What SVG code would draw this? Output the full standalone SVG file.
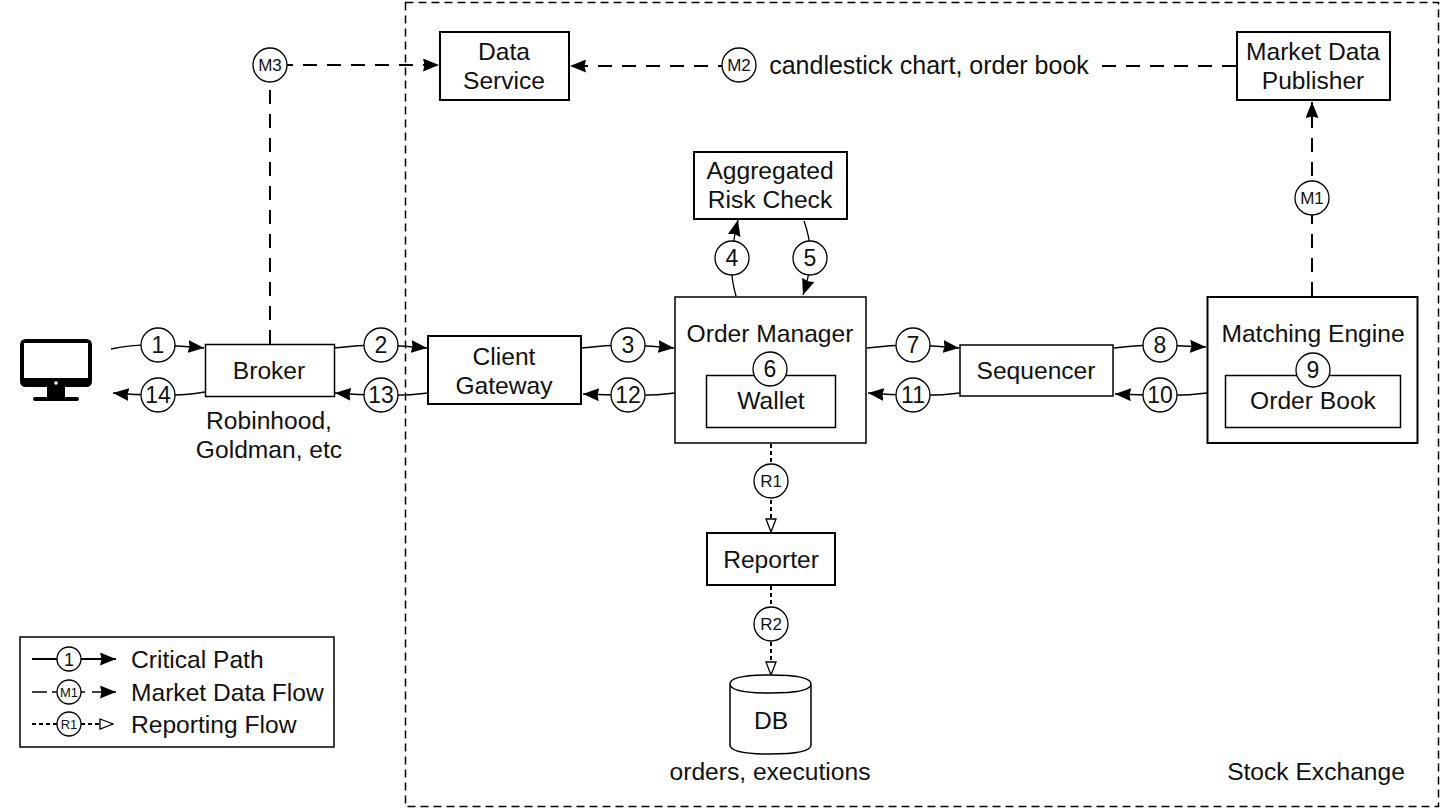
<svg xmlns="http://www.w3.org/2000/svg" width="1440" height="808" viewBox="0 0 1440 808">
<style>
text{font-family:"Liberation Sans",Arial,sans-serif;font-size:24.600px;fill:#111;text-anchor:middle}
.box{fill:#fff;stroke:#000;stroke-width:2}
.c{fill:#fff;stroke:#000;stroke-width:1.300}
.n{font-size:23px}
.m{font-size:17px}
.s{fill:none;stroke:#000;stroke-width:1.300}
.d{fill:none;stroke:#000;stroke-width:2;stroke-dasharray:14 10}
.r{fill:none;stroke:#000;stroke-width:2;stroke-dasharray:4 3}
.h{fill:#000;stroke:none}
.o{fill:#fff;stroke:#000;stroke-width:1.300}
</style>
<defs>
<marker id="a" viewBox="0 0 16 13" refX="16" refY="6.500" markerWidth="16" markerHeight="13" markerUnits="userSpaceOnUse" orient="auto"><path d="M0 0L16 6.500L0 13L1.500 6.500Z" class="h"/></marker>
<marker id="w" viewBox="0 0 15 12" refX="14" refY="6" markerWidth="15" markerHeight="12" markerUnits="userSpaceOnUse" orient="auto"><path d="M1 1L14 6L1 11Z" class="o"/></marker>
</defs>
<rect id="stock-exchange" x="405.500" y="2.500" width="1033" height="804" fill="none" stroke="#000" stroke-width="1.500" stroke-dasharray="8 5"/>
<g id="connectors">
<path class="s" d="M111 349Q135 344 158 345Q182 346 204 348" marker-end="url(#a)"/>
<path class="s" d="M205 392Q180 396 158 395Q135 395 113 393" marker-end="url(#a)"/>
<path class="s" d="M334 348Q358 345 381 345Q405 346 427 348" marker-end="url(#a)"/>
<path class="s" d="M428 393Q405 396 381 395Q358 395 335 393" marker-end="url(#a)"/>
<path class="s" d="M582 348Q605 345 628 345Q652 346 674 348" marker-end="url(#a)"/>
<path class="s" d="M675 393Q652 396 628 395Q605 395 583 394" marker-end="url(#a)"/>
<path class="s" d="M867 348Q890 345 913 345Q937 346 959 348" marker-end="url(#a)"/>
<path class="s" d="M960 393Q937 396 913 395Q890 395 868 393" marker-end="url(#a)"/>
<path class="s" d="M1114 348Q1138 345 1160 345Q1184 346 1206 347" marker-end="url(#a)"/>
<path class="s" d="M1207 393Q1184 396 1160 395Q1138 395 1115 394" marker-end="url(#a)"/>
<path class="s" d="M736 296Q730 275 732 258Q733 240 738 220" marker-end="url(#a)"/>
<path class="s" d="M804 221Q811 240 810 258Q810 275 803 295" marker-end="url(#a)"/>
<path class="d" d="M270 344V65H439" marker-end="url(#a)"/>
<path class="d" d="M1236 66H570" marker-end="url(#a)"/>
<path class="d" d="M1312 296V102" marker-end="url(#a)"/>
<path class="r" d="M771 444V532" marker-end="url(#w)"/>
<path class="r" d="M771 586V675" marker-end="url(#w)"/>
</g>
<g id="client"><path d="M26 339H86Q92 339 92 345V381Q92 387 86 387H26Q20 387 20 381V345Q20 339 26 339ZM24 343V378H88V343Z" fill-rule="evenodd" fill="#000"/><circle cx="56" cy="383" r="1.800" fill="#fff"/><rect x="47" y="387" width="18" height="10" fill="#000"/><rect x="33" y="397" width="46" height="4" rx="2" fill="#000"/></g>
<g id="broker"><rect class="box" x="205.500" y="344.500" width="129" height="52" style="stroke-width:1.500"/><text x="269" y="379">Broker</text><text x="269" y="429">Robinhood,</text><text x="269" y="458">Goldman, etc</text></g>
<g id="client-gateway"><rect class="box" x="428" y="336" width="153" height="68"/><text x="504" y="365">Client</text><text x="504" y="394">Gateway</text></g>
<g id="order-manager"><rect class="box" x="675" y="297" width="191" height="146" style="stroke-width:1.500"/><text x="770" y="342">Order Manager</text><rect class="box" x="706.500" y="375.500" width="129" height="52" style="stroke-width:1.500"/><text x="771" y="409">Wallet</text></g>
<g id="sequencer"><rect class="box" x="960" y="345" width="153" height="51" style="stroke-width:1.500"/><text x="1036" y="379">Sequencer</text></g>
<g id="matching-engine"><rect class="box" x="1207.500" y="297" width="210" height="146"/><text x="1313" y="342">Matching Engine</text><rect class="box" x="1225.500" y="375.500" width="175" height="52" style="stroke-width:1.500"/><text x="1313" y="409">Order Book</text></g>
<g id="aggregated-risk-check"><rect class="box" x="694" y="152" width="153" height="67"/><text x="770" y="179">Aggregated</text><text x="770" y="208">Risk Check</text></g>
<g id="data-service"><rect class="box" x="440" y="32" width="129" height="68"/><text x="504" y="60">Data</text><text x="504" y="89">Service</text></g>
<g id="market-data-publisher"><rect class="box" x="1237" y="32" width="153" height="68"/><text x="1313" y="60">Market Data</text><text x="1313" y="89">Publisher</text></g>
<g id="reporter"><rect class="box" x="707" y="533" width="128" height="52"/><text x="771" y="568">Reporter</text></g>
<g id="db"><path d="M730 684V745Q730 754 770 754Q811 754 811 745V684Q811 675 770 675Q730 675 730 684Q730 693 770 693Q811 693 811 684" fill="#fff" stroke="#000" stroke-width="1.500"/><text x="771" y="729">DB</text><text x="770" y="780">orders, executions</text></g>
<g id="labels"><rect x="750" y="50" width="350" height="30" fill="#fff"/><text x="929" y="74" style="font-size:25px">candlestick chart, order book</text><text x="1316" y="780">Stock Exchange</text></g>
<g id="badges">
<g><circle class="c" cx="158" cy="345" r="17"/><text class="n" x="158" y="353">1</text></g>
<g><circle class="c" cx="158" cy="395" r="17"/><text class="n" x="158" y="403">14</text></g>
<g><circle class="c" cx="381" cy="345" r="17"/><text class="n" x="381" y="353">2</text></g>
<g><circle class="c" cx="381" cy="395" r="17"/><text class="n" x="381" y="403">13</text></g>
<g><circle class="c" cx="628" cy="345" r="17"/><text class="n" x="628" y="353">3</text></g>
<g><circle class="c" cx="628" cy="395" r="17"/><text class="n" x="628" y="403">12</text></g>
<g><circle class="c" cx="732" cy="258" r="17"/><text class="n" x="732" y="266">4</text></g>
<g><circle class="c" cx="810" cy="258" r="17"/><text class="n" x="810" y="266">5</text></g>
<g><circle class="c" cx="770" cy="369" r="17"/><text class="n" x="770" y="377">6</text></g>
<g><circle class="c" cx="913" cy="345" r="17"/><text class="n" x="913" y="353">7</text></g>
<g><circle class="c" cx="913" cy="395" r="17"/><text class="n" x="913" y="403">11</text></g>
<g><circle class="c" cx="1160" cy="345" r="17"/><text class="n" x="1160" y="353">8</text></g>
<g><circle class="c" cx="1160" cy="395" r="17"/><text class="n" x="1160" y="403">10</text></g>
<g><circle class="c" cx="1313" cy="370" r="17"/><text class="n" x="1313" y="378">9</text></g>
<g><circle class="c" cx="270" cy="65" r="17"/><text class="m" x="270" y="71">M3</text></g>
<g><circle class="c" cx="739" cy="65" r="17"/><text class="m" x="739" y="71">M2</text></g>
<g><circle class="c" cx="1312" cy="198" r="17"/><text class="m" x="1312" y="204">M1</text></g>
<g><circle class="c" cx="771" cy="481" r="17"/><text class="m" x="771" y="487">R1</text></g>
<g><circle class="c" cx="771" cy="624" r="17"/><text class="m" x="771" y="630">R2</text></g>
</g>
<g id="legend">
<rect class="box" x="20" y="637" width="314" height="110" style="stroke-width:1.500"/>
<path class="s" d="M32 659H116" marker-end="url(#a)" style="stroke-width:2"/>
<path class="s" d="M32 692H47M52 692H60M78 692H85M92 692H116" marker-end="url(#a)"/>
<path class="r" d="M32 724H113" marker-end="url(#w)"/>
<circle class="c" cx="69" cy="659" r="12"/><text x="69" y="666" style="font-size:18px">1</text>
<circle class="c" cx="69" cy="692" r="12"/><text x="69" y="697" style="font-size:13px">M1</text>
<circle class="c" cx="69" cy="724" r="12"/><text x="69" y="729" style="font-size:13px">R1</text>
<text x="131" y="668" style="text-anchor:start">Critical Path</text>
<text x="131" y="701" style="text-anchor:start">Market Data Flow</text>
<text x="131" y="733" style="text-anchor:start">Reporting Flow</text>
</g>
</svg>
